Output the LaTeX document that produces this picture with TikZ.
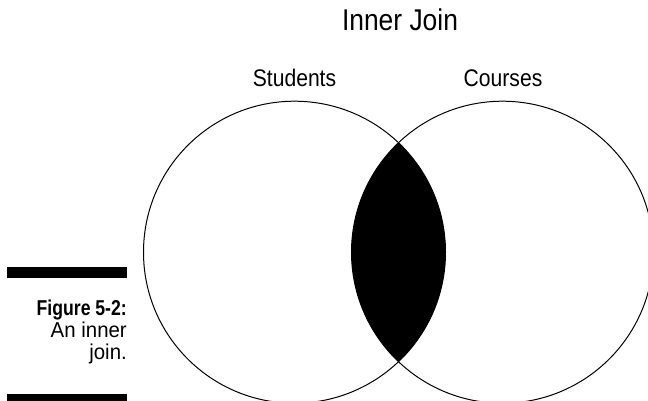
\documentclass[tikz,border=0pt]{standalone}
\usepackage{fontspec}
\setmainfont[FakeStretch=0.88]{Liberation Sans}
\newfontfamily\capfont[FakeStretch=0.95]{Liberation Sans}
\newfontfamily\capbold[FakeStretch=0.82,UprightFont={* Bold}]{Liberation Sans}
\begin{document}
\begin{tikzpicture}[x=1pt,y=-1pt,
  settitle/.style={inner sep=0pt,anchor=base,font=\fontsize{30}{32}\selectfont},
  setlabel/.style={inner sep=0pt,anchor=base,font=\fontsize{24}{26}\selectfont},
  capline/.style={inner sep=0pt,anchor=base east,font=\capfont\fontsize{21.5}{22}\selectfont},
  capboldline/.style={inner sep=0pt,anchor=base east,font=\capbold\fontsize{21.5}{22}\selectfont},
  capbar/.style={fill=black}]
\useasboundingbox (0,0) rectangle (648,400);
\begin{scope}
\clip (0,0) rectangle (648,400);
\coordinate (cl) at (294.5,252.2);
\coordinate (cr) at (502.5,252.2);
\begin{scope}
\clip (cl) circle (151);
\fill[black] (cr) circle (151);
\end{scope}
\draw[line width=1pt] (cl) circle (151);
\draw[line width=1pt] (cr) circle (151);
\fill[capbar] (7,267.3) rectangle (127,278);
\fill[capbar] (7,394) rectangle (127,402);
\end{scope}
\node[settitle] (title) at (400,30) {Inner Join};
\node[setlabel] (stud) at (294.5,86.7) {Students};
\node[setlabel] (cour) at (503,86.7) {Courses};
\node[capboldline] (cap1) at (127,315) {Figure 5-2:};
\node[capline] (cap2) at (127,337) {An inner};
\node[capline] (cap3) at (127,359) {join.};
\end{tikzpicture}
\end{document}
